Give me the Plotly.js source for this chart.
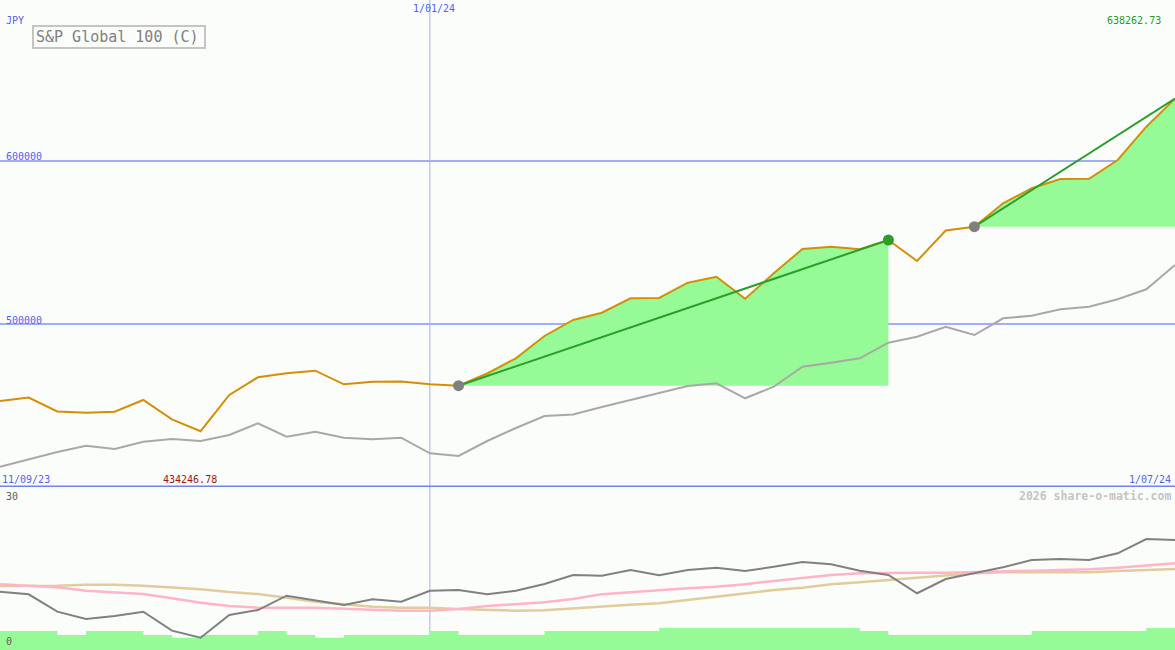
<!DOCTYPE html>
<html>
<head>
<meta charset="utf-8">
<script src="https://cdn.plot.ly/plotly-3.0.1.min.js"></script>
<style>
  html, body { margin: 0; padding: 0; background: #fbfdfb; }
  #chart { width: 1175px; height: 650px; }
</style>
</head>
<body>
<div id="chart"></div>
<script>
// ---- data (weekly) ----
const dates = [
  '2023-09-18','2023-09-25','2023-10-02','2023-10-09','2023-10-16','2023-10-23','2023-10-30',
  '2023-11-06','2023-11-13','2023-11-20','2023-11-27','2023-12-04','2023-12-11','2023-12-18',
  '2023-12-25','2024-01-01','2024-01-08','2024-01-15','2024-01-22','2024-01-29','2024-02-05',
  '2024-02-12','2024-02-19','2024-02-26','2024-03-04','2024-03-11','2024-03-18','2024-03-25',
  '2024-04-01','2024-04-08','2024-04-15','2024-04-22','2024-04-29','2024-05-06','2024-05-13',
  '2024-05-20','2024-05-27','2024-06-03','2024-06-10','2024-06-17','2024-06-24','2024-07-01'
];
const price = [452760, 454907, 446318, 445582, 446196, 453373, 441533, 434246.78, 456441, 467300,
  469754, 471349, 463005, 464601, 464700, 463005, 462147, 469631, 478956, 492637,
  502453, 506934, 515766, 515950, 525337, 529018, 515521, 531104, 546012, 547423,
  545828, 551533, 538650, 557362, 559693, 574049, 583251, 588957, 589100, 600614,
  621043, 638262.73];
const benchmark = [412453, 416993, 421471, 425337, 423312, 427791, 429447, 428220, 431901, 439079,
  430858, 433926, 430245, 429263, 430245, 420674, 419017, 428220, 436195, 443557,
  444478, 449079, 453373, 457668, 461962, 463619, 454416, 461533, 473803, 476257,
  478956, 488527, 492208, 498343, 493251, 503496, 505092, 509018, 510613, 515153,
  521288, 536196];
const oscillator = [10.86, 10.38, 7.14, 5.78, 6.34, 7.14, 3.60, 2.29, 6.52, 7.45,
  10.12, 9.19, 8.39, 9.45, 9.00, 11.05, 11.18, 10.38, 11.05, 12.30,
  13.98, 13.85, 14.91, 13.92, 14.91, 15.34, 14.72, 15.52, 16.40, 15.97,
  14.78, 13.98, 10.57, 13.23, 14.29, 15.41, 16.77, 16.96, 16.77, 18.02,
  20.68, 20.50];
const avgFast = [12.24, 11.93, 11.68, 11.05, 10.68, 10.43, 9.63, 8.81, 8.20, 7.88,
  7.88, 7.88, 7.70, 7.45, 7.32, 7.32, 7.64, 8.20, 8.57, 8.89,
  9.50, 10.38, 10.75, 11.18, 11.50, 11.80, 12.24, 12.86, 13.47, 13.98,
  14.29, 14.40, 14.40, 14.40, 14.48, 14.59, 14.78, 14.91, 15.04, 15.34,
  15.71, 16.16];
const avgSlow = [11.93, 11.95, 11.98, 12.17, 12.17, 11.98, 11.68, 11.31, 10.81, 10.43,
  9.75, 9.00, 8.52, 8.07, 7.88, 7.88, 7.64, 7.45, 7.32, 7.40,
  7.77, 8.01, 8.44, 8.70, 9.32, 9.93, 10.57, 11.18, 11.61, 12.24,
  12.62, 13.04, 13.55, 13.98, 14.29, 14.48, 14.48, 14.48, 14.48, 14.72,
  14.91, 15.09];
const volume = [3.54, 3.54, 2.80, 3.54, 3.54, 2.80, 2.29, 2.80, 2.80, 3.54,
  2.80, 2.29, 2.80, 2.80, 2.80, 3.54, 2.80, 2.80, 2.80, 3.54,
  3.54, 3.54, 3.54, 4.10, 4.10, 4.10, 4.10, 4.10, 4.10, 4.10,
  3.54, 2.80, 2.80, 2.80, 2.80, 2.80, 3.54, 3.54, 3.54, 3.54,
  4.10, 4.10];
const trendStart = [16, 34];
const trendEnd = [31, 41];
const markerColors = ['#808080', '#2a9d2a', '#808080'];
const markerIdx = [16, 31, 34];

const titleText = 'S&amp;P Global 100 (C)';
const currency = 'JPY';
const markDate = '2024-01-01';
const markLabel = '1/01/24';
const startLabel = '11/09/23';
const endLabel = '1/07/24';
const maxLabel = '638262.73';
const minLabel = '434246.78';
const gridVals = [600000, 500000];
const gridLabels = ['600000', '500000'];

// ---- traces ----
const W = 1175, H = 650;
const BG = '#fbfdfb';
const FILL = '#96fa96';
const traces = [];

// green fills between price and horizontal baseline
for (let k = 0; k < trendStart.length; k++) {
  const s = trendStart[k], e = trendEnd[k];
  const xs = dates.slice(s, e + 1).concat([dates[e], dates[s]]);
  const ys = price.slice(s, e + 1).concat([price[s], price[s]]);
  traces.push({x: xs, y: ys, type: 'scatter', mode: 'lines', fill: 'toself',
    fillcolor: FILL, line: {width: 0, color: FILL}, hoverinfo: 'skip', xaxis: 'x', yaxis: 'y'});
}
// benchmark (grey)
traces.push({x: dates, y: benchmark, type: 'scatter', mode: 'lines',
  line: {color: '#a8a8a8', width: 2}, hoverinfo: 'skip', xaxis: 'x', yaxis: 'y'});
// price (orange)
traces.push({x: dates, y: price, type: 'scatter', mode: 'lines',
  line: {color: '#d48f08', width: 2}, hoverinfo: 'skip', xaxis: 'x', yaxis: 'y'});
// trend lines
for (let k = 0; k < trendStart.length; k++) {
  const s = trendStart[k], e = trendEnd[k];
  traces.push({x: [dates[s], dates[e]], y: [price[s], price[e]], type: 'scatter', mode: 'lines',
    line: {color: '#2a9d2a', width: 2}, hoverinfo: 'skip', xaxis: 'x', yaxis: 'y'});
}
// markers
traces.push({x: markerIdx.map(i => dates[i]), y: markerIdx.map(i => price[i]), type: 'scatter',
  mode: 'markers', marker: {size: 11, color: markerColors, line: {width: 0}},
  hoverinfo: 'skip', xaxis: 'x', yaxis: 'y', cliponaxis: false});

// lower panel
traces.push({x: dates, y: volume, type: 'scatter', mode: 'lines', fill: 'tozeroy',
  fillcolor: FILL, line: {width: 0, color: FILL, shape: 'hv'}, hoverinfo: 'skip', xaxis: 'x', yaxis: 'y2'});
traces.push({x: dates, y: avgSlow, type: 'scatter', mode: 'lines',
  line: {color: '#e2cc9c', width: 2.5}, hoverinfo: 'skip', xaxis: 'x', yaxis: 'y2'});
traces.push({x: dates, y: avgFast, type: 'scatter', mode: 'lines',
  line: {color: '#ffb4c8', width: 2.5}, hoverinfo: 'skip', xaxis: 'x', yaxis: 'y2'});
traces.push({x: dates, y: oscillator, type: 'scatter', mode: 'lines',
  line: {color: '#808080', width: 2}, hoverinfo: 'skip', xaxis: 'x', yaxis: 'y2'});

// ---- layout ----
const topPx = 487;          // separator position
const upperMin = 400000;
const upperMax = 698773;
const FONT = 'DejaVu Sans Mono, monospace';
const BLUE = '#5262f0';

function lab(text, px, py, color, xanchor, size, bold) {
  return {text: bold ? '<b>' + text + '</b>' : text, x: px / W, y: 1 - py / H,
    xref: 'paper', yref: 'paper', xanchor: xanchor, yanchor: 'middle', showarrow: false,
    font: {family: FONT, size: size || 10, color: color}, borderpad: 0};
}

const annotations = [
  lab(currency, 5, 21, BLUE, 'left'),
  lab(markLabel, 434, 9, BLUE, 'center'),
  lab(maxLabel, 1162, 21, '#20a020', 'right'),
  lab(gridLabels[0], 5, 157, BLUE, 'left'),
  lab(gridLabels[1], 5, 320, BLUE, 'left'),
  lab(startLabel, 1, 479, BLUE, 'left'),
  lab(minLabel, 190, 479, '#a01414', 'center'),
  lab(endLabel, 1172, 479, BLUE, 'right'),
  lab('2026 share-o-matic.com', 1172, 496, '#c4c4c4', 'right', 11.5, true),
  lab('30', 5, 496, '#606060', 'left'),
  lab('0', 5, 641, '#606060', 'left'),
  {text: titleText, x: 32 / W, y: 1 - 25 / H, xref: 'paper', yref: 'paper',
   xanchor: 'left', yanchor: 'top', showarrow: false, align: 'left',
   width: 166, height: 16, borderpad: 2, borderwidth: 2, bordercolor: '#c4c4c4', bgcolor: BG,
   font: {family: FONT, size: 15, color: '#808080'}}
];

const shapes = gridVals.map(v => ({type: 'line', xref: 'paper', yref: 'y', x0: 0, x1: 1, y0: v, y1: v,
  line: {color: '#a4acf2', width: 2}, layer: 'below'}));
shapes.push({type: 'line', xref: 'x', yref: 'paper', x0: markDate, x1: markDate, y0: 0, y1: 1,
  line: {color: '#a8b0e6', width: 1}, layer: 'below'});
shapes.push({type: 'line', xref: 'paper', yref: 'y', x0: 0, x1: 1, y0: upperMin, y1: upperMin,
  line: {color: '#7082f0', width: 3}, layer: 'above'});

const layout = {
  width: W, height: H,
  margin: {l: 0, r: 0, t: 0, b: 0, pad: 0},
  paper_bgcolor: BG, plot_bgcolor: BG,
  showlegend: false,
  xaxis: {type: 'date', range: [dates[0], dates[dates.length - 1]], visible: false, fixedrange: true},
  yaxis: {range: [upperMin, upperMax], domain: [(H - topPx) / H, 1], visible: false, fixedrange: true},
  yaxis2: {range: [0, 30], domain: [0, (H - topPx - 2) / H], visible: false, fixedrange: true, anchor: 'x'},
  annotations: annotations,
  shapes: shapes
};

Plotly.newPlot('chart', traces, layout, {displayModeBar: false, staticPlot: true});
</script>
</body>
</html>
